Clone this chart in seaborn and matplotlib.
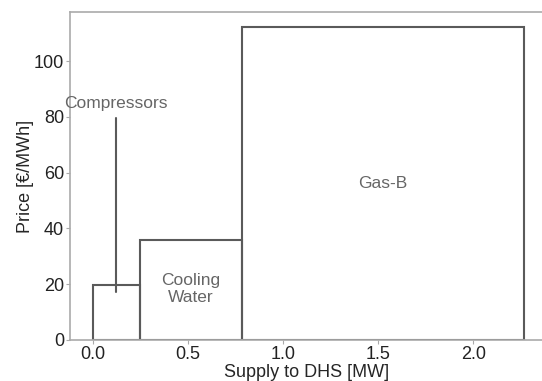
import matplotlib
matplotlib.use("Agg")
import matplotlib.pyplot as plt
import numpy as np
import pandas as pd
import seaborn as sns

# merit order of heat sources
units = ["Compressors", "Cooling\nWater", "Gas-B"]
capacity = [0.247, 0.537, 1.484]   # MW
price = [19.7, 35.8, 112.2]        # EUR/MWh

df = pd.DataFrame({"unit": units, "capacity": capacity, "price": price})
df["start"] = df["capacity"].cumsum() - df["capacity"]

sns.set_theme(style="white")
plt.rcParams["font.family"] = ["Liberation Sans", "DejaVu Sans"]

fig, ax = plt.subplots(figsize=(5.42, 3.81), dpi=100)

ax.bar(df["start"], df["price"], width=df["capacity"], align="edge",
       fill=False, edgecolor="#5a5a5a", linewidth=1.5)

# labels
ax.text(df["start"][2] + df["capacity"][2] / 2, 56, units[2],
        ha="center", va="center", color="#666666", fontsize=12.5)
ax.text(0.515, 18.3, units[1], ha="center", va="center",
        color="#666666", fontsize=12.5, linespacing=1.15)
ax.plot([0.121, 0.121], [17, 79.5], color="#5a5a5a", linewidth=1.5)
ax.text(0.125, 85, units[0], ha="center", va="center",
        color="#666666", fontsize=12.5)

ax.set_xlim(-0.116, 2.36)
ax.set_ylim(0, 117.6)
ax.set_xticks([0.0, 0.5, 1.0, 1.5, 2.0])
ax.set_xticklabels(["0.0", "0.5", "1.0", "1.5", "2.0"])
ax.set_yticks([0, 20, 40, 60, 80, 100])
ax.tick_params(axis="both", labelsize=13, colors="#222222", length=3,
               width=0.8, color="#aaaaaa", direction="out", pad=1.5,
               left=True, bottom=True)
ax.set_xlabel("Supply to DHS [MW]", fontsize=13, labelpad=1)
ax.set_ylabel("Price [€/MWh]", fontsize=13)
ax.yaxis.set_label_coords(-0.078, 0.5)

for s in ["left", "bottom", "top"]:
    ax.spines[s].set_color("#aaaaaa")
    ax.spines[s].set_linewidth(1.2)
ax.spines["right"].set_visible(False)

fig.subplots_adjust(left=0.13, right=1.0, top=0.968, bottom=0.108)
fig.savefig("out.png", dpi=100)
